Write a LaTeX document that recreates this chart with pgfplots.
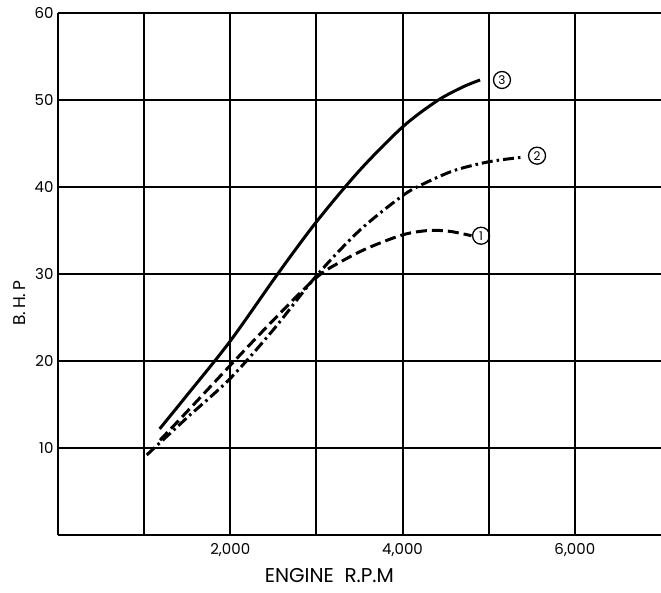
\documentclass[border=0pt]{standalone}
\usepackage{pgfplots}
\pgfplotsset{compat=1.18}
\usepackage{fontspec}
\setmainfont{Poppins}
\begin{document}
\begin{tikzpicture}
\begin{axis}[
  name=ax,
  width=603pt, height=522pt, scale only axis,
  xmin=0, xmax=7000, ymin=0, ymax=60,
  axis x line*=bottom, axis y line*=left,
  xtick={1000,2000,3000,4000,5000,6000},
  xticklabels={,{2,000},,{4,000},,{6,000}},
  ytick={10,20,30,40,50,60},
  yticklabels={10,20,30,40,50,60},
  grid=major,
  major grid style={black, line width=2.1pt},
  axis line style={black, line width=2.8pt},
  tick style={draw=none},
  tick label style={font=\fontsize{15}{16}\selectfont},
  xticklabel style={yshift=-5pt},
  yticklabel style={xshift=-1pt},
  xlabel={ENGINE\ \ R.P.M},
  ylabel={B.\,H.\,P},
  xlabel style={at={(rel axis cs:0.45,-0.077)}, anchor=center, font=\fontsize{20}{22}\selectfont},
  ylabel style={at={(rel axis cs:-0.063,0.444)}, anchor=center, font=\fontsize{17}{19}\selectfont},
  clip=false,
]
% curve 3 (solid)
\addplot[black, line width=3pt, smooth, tension=0.5] coordinates {
 (1180,12.2) (1500,16.1) (2000,22.3) (2550,30.0) (3000,36.0) (3500,41.9)
 (4000,46.9) (4400,49.9) (4700,51.5) (4900,52.3)};
% curve 1 (dashed)
\addplot[black, line width=3pt, smooth, tension=0.5, dash pattern=on 11pt off 5pt] coordinates {
 (1184,10.9) (1500,14.2) (2000,19.5) (2500,24.7) (3000,29.6) (3300,31.5)
 (3600,33.0) (4000,34.5) (4300,35.0) (4550,34.9) (4800,34.4)};
% curve 2 (dash-dot)
\addplot[black, line width=3pt, smooth, tension=0.5, dash pattern=on 11pt off 4pt on 2.5pt off 4pt] coordinates {
 (1030,9.2) (1500,13.5) (2000,18.0) (2500,23.6) (3000,29.8) (3500,35.0)
 (4000,39.0) (4250,40.4) (4600,41.9) (5000,42.9) (5370,43.4)};
\node[draw, circle, line width=1.3pt, inner sep=0pt, minimum size=17pt, font=\fontsize{12}{13}\selectfont] at (axis cs:5154,52.3) {3};
\node[draw, circle, line width=1.3pt, inner sep=0pt, minimum size=17pt, font=\fontsize{12}{13}\selectfont] at (axis cs:5561,43.6) {2};
\node[draw, circle, line width=1.3pt, inner sep=0pt, minimum size=17pt, font=\fontsize{12}{13}\selectfont] at (axis cs:4911,34.4) {1};
\end{axis}
\path (ax.south west) ++(-58pt,-57pt) coordinate (bl);
\path (ax.north east) ++(0pt,13pt) coordinate (tr);
\pgfresetboundingbox
\useasboundingbox (bl) rectangle (tr);
\end{tikzpicture}
\end{document}
